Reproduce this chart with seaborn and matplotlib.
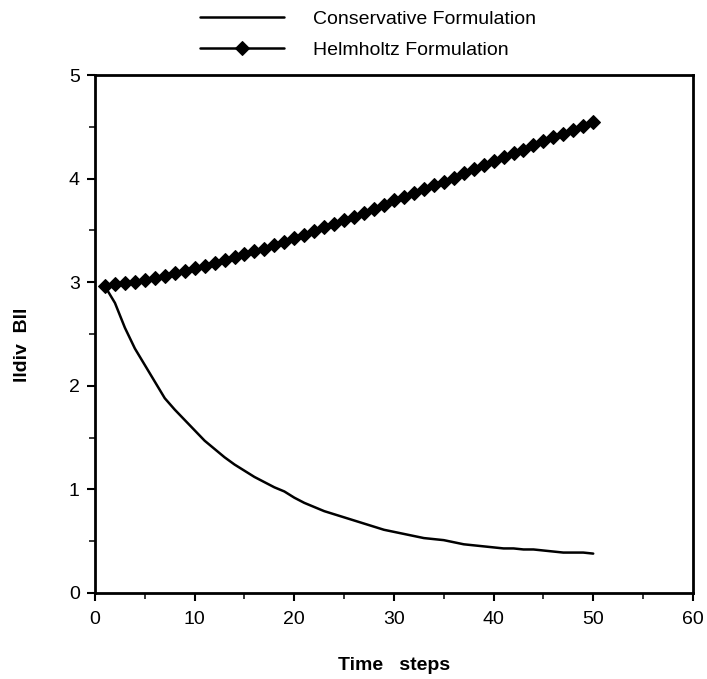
import matplotlib
matplotlib.use("Agg")
import matplotlib.pyplot as plt
import seaborn as sns
import pandas as pd
from matplotlib.ticker import MultipleLocator

time_steps = list(range(1, 51))

conservative = [2.96, 2.80, 2.56, 2.36, 2.20, 2.04, 1.88, 1.77, 1.67, 1.57,
                1.47, 1.39, 1.31, 1.24, 1.18, 1.12, 1.07, 1.02, 0.98, 0.92,
                0.87, 0.83, 0.79, 0.76, 0.73, 0.70, 0.67, 0.64, 0.61, 0.59,
                0.57, 0.55, 0.53, 0.52, 0.51, 0.49, 0.47, 0.46, 0.45, 0.44,
                0.43, 0.43, 0.42, 0.42, 0.41, 0.40, 0.39, 0.39, 0.39, 0.38]

helmholtz = [2.96, 2.98, 2.99, 3.00, 3.02, 3.04, 3.06, 3.09, 3.11, 3.14,
             3.16, 3.19, 3.21, 3.24, 3.27, 3.30, 3.32, 3.36, 3.39, 3.43,
             3.46, 3.49, 3.53, 3.56, 3.60, 3.63, 3.67, 3.71, 3.75, 3.79,
             3.82, 3.86, 3.90, 3.94, 3.97, 4.01, 4.05, 4.09, 4.13, 4.17,
             4.21, 4.25, 4.28, 4.32, 4.36, 4.40, 4.43, 4.47, 4.51, 4.55]

series_names = ["Conservative Formulation", "Helmholtz Formulation"]
x_ticks = [0, 10, 20, 30, 40, 50, 60]
y_ticks = [0, 1, 2, 3, 4, 5]

sns.set_style("ticks")
plt.rcParams["font.family"] = ["Liberation Sans", "DejaVu Sans"]
plt.rcParams["text.color"] = "black"
plt.rcParams["axes.labelcolor"] = "black"

df_c = pd.DataFrame({"t": time_steps, "v": conservative})
df_h = pd.DataFrame({"t": time_steps, "v": helmholtz})

fig = plt.figure(figsize=(7.07, 6.79), dpi=100)
ax = fig.add_axes([0.1344, 0.1267, 0.8456, 0.7628])

sns.lineplot(data=df_c, x="t", y="v", ax=ax, color="black", linewidth=1.8,
             label=series_names[0])
sns.lineplot(data=df_h, x="t", y="v", ax=ax, color="black", linewidth=1.8,
             marker="D", markersize=7, markeredgecolor="black",
             markerfacecolor="black", label=series_names[1])

ax.set_xlim(0, 60)
ax.set_ylim(0, 5)
ax.set_xticks(x_ticks)
ax.set_yticks(y_ticks)
ax.xaxis.set_minor_locator(MultipleLocator(5))
ax.yaxis.set_minor_locator(MultipleLocator(0.5))
ax.tick_params(axis="both", which="major", direction="out", length=6,
               width=1.5, labelsize=14, colors="black")
ax.tick_params(axis="both", which="minor", direction="out", length=4,
               width=1.3)
ax.tick_params(axis="x", pad=7)
ax.tick_params(axis="y", pad=5)
for s in ax.spines.values():
    s.set_visible(True)
    s.set_linewidth(2)
    s.set_color("black")

ax.set_xlabel("Time   steps", fontsize=14, fontweight="bold", labelpad=21)
ax.set_ylabel("lldiv  Bll", fontsize=14, fontweight="bold")
ax.yaxis.set_label_coords(-0.107, 0.48)

handles, labels = ax.get_legend_handles_labels()
ax.get_legend().remove()
fig.legend(handles, labels, loc="upper left", bbox_to_anchor=(0.269, 0.999),
           frameon=False, fontsize=14, handlelength=4.3,
           handletextpad=1.5, labelspacing=0.7, borderpad=0)

fig.savefig("out.png", dpi=100)
